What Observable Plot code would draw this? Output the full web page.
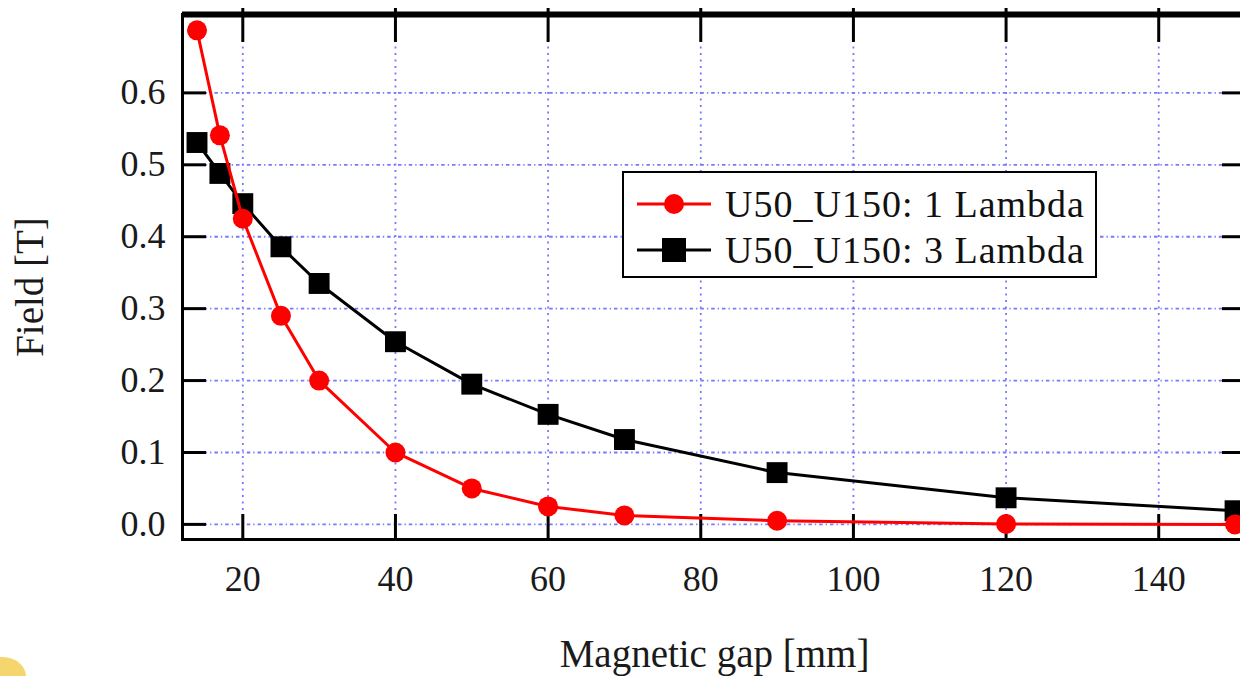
<!DOCTYPE html>
<html>
<head>
<meta charset="utf-8">
<script src="https://cdn.jsdelivr.net/npm/d3@7"></script>
<script src="https://cdn.jsdelivr.net/npm/@observablehq/plot@0.6"></script>
<style>
  html, body { margin: 0; padding: 0; background: #fff; overflow: hidden; }
  #wrap { position: relative; width: 1240px; height: 676px; overflow: hidden; font-family: "Liberation Serif", "DejaVu Serif", serif; }
  #legend { position: absolute; left: 622px; top: 171px; width: 475px; height: 107px; box-sizing: border-box;
            border: 2.5px solid #000; background: #fff; }
  .row { position: absolute; left: 0; height: 40px; display: flex; align-items: center; }
  .row svg { margin-left: 13px; }
  .row span { margin-left: 14px; font-size: 38px; color: #111; letter-spacing: 1px; white-space: nowrap; }
  #blob { position: absolute; left: -26px; top: 657px; width: 52px; height: 44px; border-radius: 45%; background: #f5d66e; }
</style>
</head>
<body>
<div id="wrap"></div>
<script>
// ---- data ----
const gaps = [14, 17, 20, 25, 30, 40, 50, 60, 70, 90, 120, 150];
const field1Lambda = [0.687, 0.541, 0.425, 0.290, 0.200, 0.100, 0.050, 0.025, 0.0125, 0.005, 0.0005, 0.0];
const field3Lambda = [0.531, 0.488, 0.446, 0.386, 0.335, 0.254, 0.195, 0.153, 0.118, 0.072, 0.037, 0.019];
const seriesNames = ["U50_U150: 1 Lambda", "U50_U150: 3 Lambda"];
const seriesColors = ["#ff0000", "#000000"];
const xTicks = [20, 40, 60, 80, 100, 120, 140];
const yTicks = [0.0, 0.1, 0.2, 0.3, 0.4, 0.5, 0.6];
const xDomain = [12.1, 151.5];
const yDomain = [-0.021, 0.709];
const xLabel = "Magnetic gap [mm]";
const yLabel = "Field [T]";

const rows1 = gaps.map((g, i) => ({gap: g, field: field1Lambda[i]}));
const rows3 = gaps.map((g, i) => ({gap: g, field: field3Lambda[i]}));

const W = 1240, H = 676;
const mL = 182, mT = 14, mB = 137, mR = -6;
const innerH = H - mT - mB, innerW = W - mR - mL;
const gridColor = "#7878ff";
const fontFam = "Liberation Serif, DejaVu Serif, serif";

const chart = Plot.plot({
  width: W, height: H,
  marginLeft: mL, marginTop: mT, marginBottom: mB, marginRight: mR,
  style: {fontFamily: fontFam, background: "transparent", overflow: "hidden"},
  x: {domain: xDomain},
  y: {domain: yDomain},
  marks: [
    Plot.gridY(yTicks, {stroke: gridColor, strokeOpacity: 1, strokeWidth: 1.8, strokeDasharray: "3.5,3,1.3,3"}),
    Plot.gridX(xTicks, {stroke: gridColor, strokeOpacity: 1, strokeWidth: 1.8, strokeDasharray: "2,4.5"}),
    // inward tick marks
    Plot.ruleX(xTicks, {stroke: "#000", strokeWidth: 3, insetTop: innerH - 25}),
    Plot.ruleX(xTicks, {stroke: "#000", strokeWidth: 3, insetBottom: innerH - 28, insetTop: -6}),
    Plot.ruleY(yTicks, {stroke: "#000", strokeWidth: 3, insetRight: innerW - 24}),
    Plot.ruleY(yTicks, {stroke: "#000", strokeWidth: 3, insetLeft: innerW - 24}),
    Plot.frame({stroke: "#000", strokeWidth: 3}),
    Plot.ruleY([yDomain[1]], {stroke: "#000", strokeWidth: 6}),
    // tick labels
    Plot.axisX({ticks: xTicks, tickSize: 0, tickPadding: 26, fontSize: 36, label: null, color: "#1a1a1a", tickFormat: d3.format("d")}),
    Plot.axisY({ticks: yTicks, tickSize: 0, tickPadding: 17, fontSize: 36, label: null, color: "#1a1a1a", tickFormat: d3.format(".1f")}),
    // axis titles
    Plot.text([xLabel], {frameAnchor: "bottom", dy: 127, fontSize: 39, fill: "#1a1a1a", textAnchor: "middle"}),
    Plot.text([yLabel], {frameAnchor: "left", rotate: -90, dx: -152, dy: 10, fontSize: 39, fill: "#1a1a1a", textAnchor: "middle"}),
    // series
    Plot.line(rows3, {x: "gap", y: "field", stroke: seriesColors[1], strokeWidth: 3}),
    Plot.dot(rows3, {x: "gap", y: "field", symbol: "square", r: 11.8, fill: seriesColors[1], stroke: "none"}),
    Plot.line(rows1, {x: "gap", y: "field", stroke: seriesColors[0], strokeWidth: 3}),
    Plot.dot(rows1, {x: "gap", y: "field", symbol: "circle", r: 10, fill: seriesColors[0], stroke: "none"})
  ]
});

const wrap = document.getElementById("wrap");
wrap.appendChild(chart);

// legend
const legend = document.createElement("div");
legend.id = "legend";
const rowTops = [11, 57];
seriesNames.forEach((name, i) => {
  const row = document.createElement("div");
  row.className = "row";
  row.style.top = rowTops[i] + "px";
  const shape = i === 0
    ? `<circle cx="37" cy="20" r="10" fill="${seriesColors[i]}"/>`
    : `<rect x="25" y="8" width="24" height="24" fill="${seriesColors[i]}"/>`;
  row.innerHTML = `<svg width="74" height="40"><line x1="0" x2="74" y1="20" y2="20" stroke="${seriesColors[i]}" stroke-width="3"/>${shape}</svg><span>${name}</span>`;
  legend.appendChild(row);
});
wrap.appendChild(legend);

const blob = document.createElement("div");
blob.id = "blob";
wrap.appendChild(blob);
</script>
</body>
</html>
